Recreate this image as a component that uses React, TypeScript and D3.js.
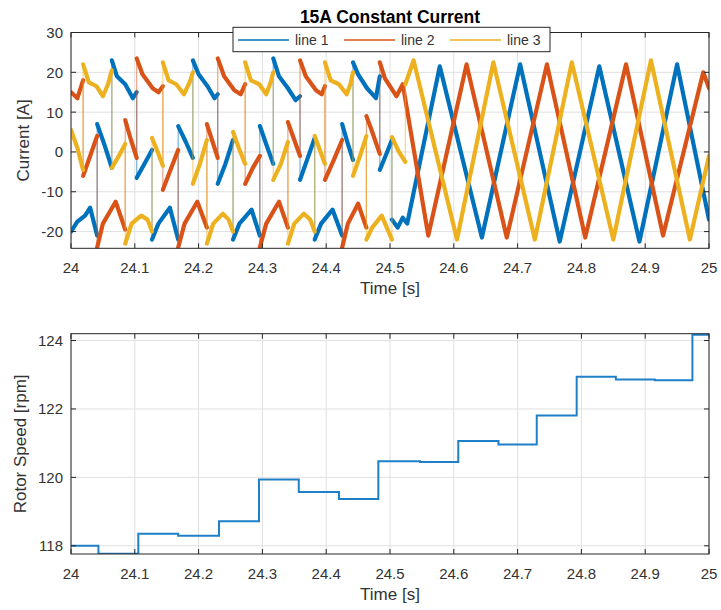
import React from 'react';
import * as d3 from 'd3';

type Pt = [number, number];

// ---- data ----
const xTicks = [24, 24.1, 24.2, 24.3, 24.4, 24.5, 24.6, 24.7, 24.8, 24.9, 25];
const xTickLabels = ['24', '24.1', '24.2', '24.3', '24.4', '24.5', '24.6', '24.7', '24.8', '24.9', '25'];
const currentTicks = [-20, -10, 0, 10, 20, 30];
const speedTicks = [118, 120, 122, 124];
const seriesNames = ['line 1', 'line 2', 'line 3'];
const seriesColors = ['#0072BD', '#D95319', '#EDB120'];

// phase currents: [time, amps]; two points with the same time = a switching jump
const line1: Pt[] = [
  [24.000, -20], [24.010, -17.5], [24.022, -16], [24.030, -14], [24.041, -21],
  [24.041, 7], [24.052, 2], [24.064, -4],
  [24.064, 23], [24.072, 19], [24.085, 17], [24.097, 13.5], [24.103, 15],
  [24.103, -6.5], [24.115, -3], [24.127, 0.5],
  [24.127, -22], [24.137, -18], [24.155, -14], [24.168, -22],
  [24.168, 6.5], [24.180, 2.5], [24.191, -1.5],
  [24.191, 23], [24.200, 19.5], [24.214, 16.5], [24.225, 13.5], [24.230, 14.5],
  [24.230, -8], [24.242, -3], [24.254, 3],
  [24.254, -22], [24.264, -18], [24.283, -14.5], [24.296, -21],
  [24.296, 6.5], [24.307, 1.5], [24.317, -3],
  [24.317, 23.5], [24.326, 19], [24.340, 16], [24.352, 13], [24.359, 14],
  [24.359, -7], [24.370, -2], [24.382, 3.5],
  [24.382, -22], [24.392, -18], [24.410, -14.5], [24.425, -21],
  [24.425, 7], [24.434, 2], [24.442, -2],
  [24.442, 22.5], [24.450, 19.5], [24.464, 16], [24.478, 13.5], [24.484, 19],
  [24.484, -4.5], [24.493, -1], [24.503, 3],
  [24.503, -17], [24.512, -19], [24.520, -16.5], [24.527, -18],
  [24.578, 21.5], [24.644, -21.5], [24.704, 22], [24.766, -22.5], [24.828, 21.5],
  [24.891, -22.5], [24.950, 22], [25.000, -17],
];

const line2: Pt[] = [
  [24.000, 15], [24.010, 13.5], [24.019, 18],
  [24.019, -6], [24.030, -1], [24.041, 4],
  [24.041, -24], [24.050, -18], [24.070, -12.5], [24.085, -19.5],
  [24.085, 8], [24.094, 3], [24.103, -1.5],
  [24.103, 23.5], [24.112, 19.5], [24.128, 16], [24.137, 15], [24.144, 16.5],
  [24.144, -9.5], [24.156, -4.5], [24.168, 0.5],
  [24.168, -24], [24.178, -18], [24.198, -12.5], [24.213, -19],
  [24.213, 7], [24.222, 2.5], [24.230, -1.5],
  [24.230, 23.5], [24.240, 19], [24.256, 15.5], [24.266, 14.5], [24.273, 17],
  [24.273, -8], [24.285, -4], [24.296, -1],
  [24.296, -24], [24.306, -18], [24.326, -12.5], [24.340, -19],
  [24.340, 7.5], [24.350, 3], [24.359, -1],
  [24.359, 23], [24.368, 19], [24.384, 15.5], [24.393, 14.5], [24.398, 16.5],
  [24.398, -7], [24.412, -2], [24.425, 3],
  [24.425, -24], [24.434, -18], [24.450, -13], [24.463, -19],
  [24.463, 9], [24.470, 6], [24.484, -0.5],
  [24.484, 22.5], [24.492, 18.5], [24.510, 14], [24.520, 17],
  [24.560, -21], [24.620, 22], [24.683, -21.5], [24.746, 22], [24.806, -21.5],
  [24.870, 22], [24.928, -21], [24.991, 20], [25.000, 16],
];

const line3: Pt[] = [
  [24.000, -22],
  [24.000, 5.5], [24.010, 1], [24.019, -4.5],
  [24.019, 22], [24.028, 17.5], [24.040, 16.5], [24.050, 14], [24.058, 17], [24.064, 20.5],
  [24.064, -4], [24.075, -1], [24.085, 2],
  [24.085, -23], [24.095, -18], [24.110, -16], [24.120, -17], [24.127, -20],
  [24.127, 3.5], [24.136, 0], [24.144, -3.5],
  [24.144, 22.5], [24.153, 18], [24.165, 17], [24.177, 14.5], [24.186, 17.5], [24.191, 20],
  [24.191, -8], [24.202, -3], [24.213, 3],
  [24.213, -23], [24.223, -18], [24.238, -15.5], [24.247, -17], [24.254, -20],
  [24.254, 5], [24.263, 1], [24.273, -3],
  [24.273, 22.5], [24.282, 18], [24.295, 17], [24.306, 14.5], [24.313, 17.5], [24.317, 20],
  [24.317, -7], [24.329, -3], [24.340, 2.5],
  [24.340, -23], [24.350, -18], [24.365, -15.5], [24.375, -17], [24.382, -20],
  [24.382, 4], [24.390, 0.5], [24.398, -3],
  [24.398, 22.5], [24.407, 18], [24.420, 17], [24.432, 14.5], [24.438, 17], [24.442, 20],
  [24.442, -6], [24.453, -1], [24.463, 4],
  [24.463, -22], [24.472, -19], [24.487, -16], [24.495, -19], [24.503, -22],
  [24.503, 3.7], [24.514, 0], [24.524, -2.5],
  [24.524, 17], [24.537, 23], [24.605, -22], [24.662, 22.5], [24.727, -22], [24.785, 22.5],
  [24.850, -22], [24.909, 23], [24.970, -22], [25.000, -1],
];

// rotor speed steps (value holds from each time to the next)
const speedTimes = [24.000, 24.043, 24.1055, 24.168, 24.232, 24.2947, 24.357, 24.420, 24.4817,
  24.547, 24.607, 24.670, 24.730, 24.7926, 24.854, 24.915, 24.974];
const speedValues = [118.0, 117.77, 118.35, 118.29, 118.72, 119.94, 119.57, 119.37, 120.47,
  120.45, 121.06, 120.96, 121.81, 122.94, 122.86, 122.84, 124.17];

// ---- layout ----
const W = 721;
const H = 610;
const left = 71;
const right = 709;
const top1 = 32.5;
const bot1 = 248.3;
const top2 = 333.7;
const bot2 = 554;
const font = '"Liberation Sans", Arial, Helvetica, sans-serif';
const ink = '#262626';
const labelInk = '#333';
const gridColor = '#e0e0e0';
const tickLen = 5;

const x = d3.scaleLinear().domain([24, 25]).range([left, right]);
const yCur = d3.scaleLinear().domain([-24.2, 30]).range([bot1, top1]);
const ySpd = d3.scaleLinear().domain([117.76, 124.2]).range([bot2, top2]);

function splitAtJumps(pts: Pt[]): Pt[][] {
  const pieces: Pt[][] = [];
  let cur: Pt[] = [pts[0]];
  for (let i = 1; i < pts.length; i++) {
    if (pts[i][0] === pts[i - 1][0]) {
      pieces.push(cur);
      cur = [pts[i]];
    } else cur.push(pts[i]);
  }
  pieces.push(cur);
  return pieces.filter(p => p.length > 1);
}

function Frame({ y, yTicks, top, bottom, id, children }: any) {
  return (
    <g>
      <rect x={left} y={top} width={right - left} height={bottom - top} fill="#fff" />
      {xTicks.map(t => (
        <line key={'gx' + t} x1={x(t)} x2={x(t)} y1={top} y2={bottom} stroke={gridColor} strokeWidth={1} />
      ))}
      {yTicks.map((t: number) => (
        <line key={'gy' + t} x1={left} x2={right} y1={y(t)} y2={y(t)} stroke={gridColor} strokeWidth={1} />
      ))}
      <clipPath id={id}>
        <rect x={left} y={top} width={right - left} height={bottom - top} />
      </clipPath>
      <g clipPath={`url(#${id})`}>{children}</g>
      <rect x={left} y={top} width={right - left} height={bottom - top} fill="none" stroke={ink} strokeWidth={1} />
      {xTicks.map(t => (
        <g key={'tx' + t}>
          <line x1={x(t)} x2={x(t)} y1={bottom} y2={bottom - tickLen} stroke={ink} />
          <line x1={x(t)} x2={x(t)} y1={top} y2={top + tickLen} stroke={ink} />
        </g>
      ))}
      {yTicks.map((t: number) => (
        <g key={'ty' + t}>
          <line x1={left} x2={left + tickLen} y1={y(t)} y2={y(t)} stroke={ink} />
          <line x1={right} x2={right - tickLen} y1={y(t)} y2={y(t)} stroke={ink} />
          <text x={left - 8} y={y(t)} dy="0.36em" textAnchor="end" fontSize={15} fill={labelInk}>{t}</text>
        </g>
      ))}
      {xTicks.map((t, i) => (
        <text key={'lx' + t} x={x(t)} y={bottom + 25} textAnchor="middle" fontSize={15} fill={labelInk}>
          {xTickLabels[i]}
        </text>
      ))}
      <text x={(left + right) / 2} y={bottom + 46} textAnchor="middle" fontSize={17} fill={labelInk}>Time [s]</text>
    </g>
  );
}

export default function App() {
  const curLine = d3.line<Pt>().x(d => x(d[0])).y(d => yCur(d[1]));
  const speedPts: Pt[] = speedTimes.map((t, i) => [t, speedValues[i]] as Pt)
    .concat([[25, speedValues[speedValues.length - 1]]]);
  const spdLine = d3.line<Pt>().x(d => x(d[0])).y(d => ySpd(d[1])).curve(d3.curveStepAfter);
  const series = [line1, line2, line3];
  const legendLeft = 233;
  const legendStep = 106;

  return (
    <div style={{ position: 'absolute', left: 0, top: 0, background: '#fff' }}>
      <svg width={W} height={H} style={{ display: 'block', fontFamily: font }}>
        <rect width={W} height={H} fill="#fff" />

        <Frame y={yCur} yTicks={currentTicks} top={top1} bottom={bot1} id="clipCur">
          {series.map((pts, i) => (
            <g key={i}>
              <path d={curLine(pts) || ''} fill="none" stroke={seriesColors[i]} strokeWidth={1.2} strokeOpacity={0.55} />
              {splitAtJumps(pts).map((p, j) => (
                <path key={j} d={curLine(p) || ''} fill="none" stroke={seriesColors[i]} strokeWidth={4.2}
                  strokeLinejoin="round" strokeLinecap="round" />
              ))}
            </g>
          ))}
        </Frame>
        <text transform={`translate(28.5,${(top1 + bot1) / 2}) rotate(-90)`} textAnchor="middle" fontSize={17} fill={labelInk}>
          Current [A]
        </text>
        <text x={(left + right) / 2} y={23} textAnchor="middle" fontSize={17.5} fontWeight="bold" fill="#000">
          15A Constant Current
        </text>

        <g>
          <rect x={legendLeft} y={27.3} width={317} height={24.4} fill="#fff" stroke={ink} strokeWidth={1} />
          {seriesNames.map((name, i) => (
            <g key={name} transform={`translate(${legendLeft + 5 + i * legendStep},0)`}>
              <line x1={0} x2={51} y1={40} y2={40} stroke={seriesColors[i]} strokeWidth={1.6} />
              <text x={57} y={45} fontSize={14} fill={labelInk}>{name}</text>
            </g>
          ))}
        </g>

        <Frame y={ySpd} yTicks={speedTicks} top={top2} bottom={bot2} id="clipSpd">
          <path d={spdLine(speedPts) || ''} fill="none" stroke="#1f80c8" strokeWidth={2} />
        </Frame>
        <text transform={`translate(26,${(top2 + bot2) / 2}) rotate(-90)`} textAnchor="middle" fontSize={17} fill={labelInk}>
          Rotor Speed [rpm]
        </text>
      </svg>
    </div>
  );
}
